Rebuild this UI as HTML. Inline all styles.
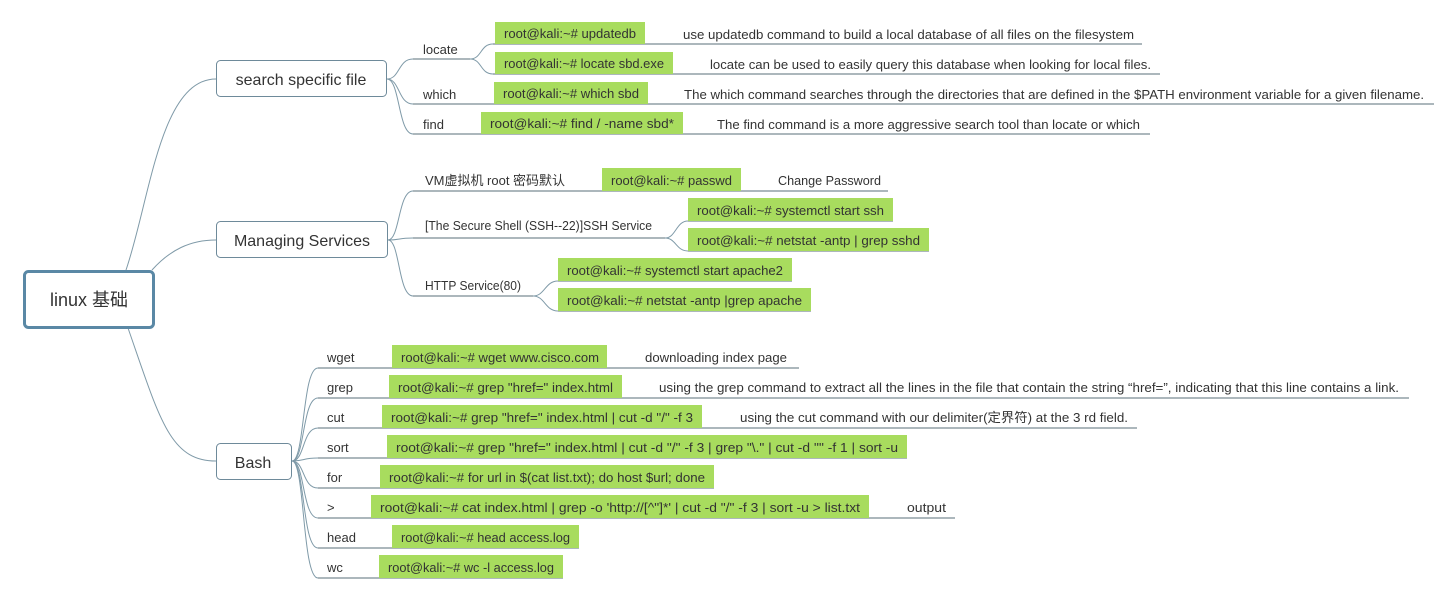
<!DOCTYPE html>
<html><head><meta charset="utf-8"><style>
html,body{margin:0;padding:0;background:#fff;width:1454px;height:600px;overflow:hidden}
svg text{font-family:"Liberation Sans","Noto Sans CJK SC",sans-serif;fill:#333}
</style></head><body>
<svg width="1454" height="600" xmlns="http://www.w3.org/2000/svg">
<g fill="none" stroke="#7f9aa8" stroke-width="1">
<!-- root connectors -->
<path d="M126 270 C150 200,160 79,216 79"/>
<path d="M152 270 C170 250,190 240,216 240"/>
<path d="M128 328 C160 420,170 461,216 461"/>
<!-- search branches -->
<path d="M387 79 C400 79,398 59,413 59 L470 59"/>
<path d="M387 79 C400 79,398 104,413 104"/>
<path d="M387 79 C400 79,398 134,413 134"/>
<path d="M470 59 C482 59,480 44,493 44"/>
<path d="M470 59 C482 59,480 74,493 74"/>
<!-- managing -->
<path d="M388 240 C400 240,398 191,413 191"/>
<path d="M388 240 C400 240,398 238,413 238"/>
<path d="M388 240 C400 240,398 296,413 296"/>
<path d="M665 238 C676 238,676 221,688 221"/>
<path d="M665 238 C676 238,676 251,688 251"/>
<path d="M533 296 C545 296,545 281,558 281"/>
<path d="M533 296 C545 296,545 311,558 311"/>
<!-- bash -->
<path d="M292 461 C305 461,302 368,318 368"/>
<path d="M292 461 C305 461,302 398,318 398"/>
<path d="M292 461 C305 461,302 428,318 428"/>
<path d="M292 461 C305 461,302 458,318 458"/>
<path d="M292 461 C305 461,302 488,318 488"/>
<path d="M292 461 C305 461,302 518,318 518"/>
<path d="M292 461 C305 461,302 548,318 548"/>
<path d="M292 461 C305 461,302 578,318 578"/>
</g>
<g stroke="#7a8c94" stroke-width="1.2">
<line x1="413" y1="59" x2="470" y2="59"/>
<line x1="493" y1="44" x2="1142" y2="44"/>
<line x1="493" y1="74" x2="1160" y2="74"/>
<line x1="413" y1="104" x2="1434" y2="104"/>
<line x1="413" y1="134" x2="1150" y2="134"/>
<line x1="413" y1="191" x2="888" y2="191"/>
<line x1="413" y1="238" x2="665" y2="238"/>
<line x1="688" y1="221" x2="893" y2="221"/>
<line x1="688" y1="251" x2="929" y2="251"/>
<line x1="413" y1="296" x2="533" y2="296"/>
<line x1="558" y1="281" x2="792" y2="281"/>
<line x1="558" y1="311" x2="811" y2="311"/>
<line x1="318" y1="368" x2="799" y2="368"/>
<line x1="318" y1="398" x2="1409" y2="398"/>
<line x1="318" y1="428" x2="1137" y2="428"/>
<line x1="318" y1="458" x2="907" y2="458"/>
<line x1="318" y1="488" x2="714" y2="488"/>
<line x1="318" y1="518" x2="955" y2="518"/>
<line x1="318" y1="548" x2="579" y2="548"/>
<line x1="318" y1="578" x2="563" y2="578"/>
</g>
<!-- main boxes -->
<rect x="24.5" y="271.5" width="129" height="56" rx="4" fill="#fff" stroke="#5a88a5" stroke-width="3"/>
<text x="89" y="306" font-size="18" text-anchor="middle">linux 基础</text>
<rect x="216.5" y="60.5" width="170" height="36" rx="4" fill="#fff" stroke="#6e8a9a"/>
<text x="301" y="85" font-size="16" text-anchor="middle">search specific file</text>
<rect x="216.5" y="221.5" width="171" height="36" rx="4" fill="#fff" stroke="#6e8a9a"/>
<text x="302" y="246" font-size="16" text-anchor="middle">Managing Services</text>
<rect x="216.5" y="443.5" width="75" height="36" rx="4" fill="#fff" stroke="#6e8a9a"/>
<text x="253" y="468" font-size="16" text-anchor="middle">Bash</text>
<!-- green boxes -->
<g fill="#a8dc5e">
<rect x="495" y="22" width="150" height="22"/>
<rect x="495" y="52" width="178" height="22"/>
<rect x="494" y="82" width="154" height="22"/>
<rect x="481" y="112" width="202" height="22"/>
<rect x="602" y="168" width="139" height="23"/>
<rect x="688" y="198" width="205" height="23"/>
<rect x="688" y="228" width="241" height="23"/>
<rect x="558" y="258" width="234" height="23"/>
<rect x="558" y="288" width="253" height="23"/>
<rect x="392" y="345" width="215" height="23"/>
<rect x="389" y="375" width="233" height="23"/>
<rect x="382" y="405" width="320" height="23"/>
<rect x="387" y="435" width="520" height="23"/>
<rect x="380" y="465" width="334" height="23"/>
<rect x="371" y="495" width="498" height="23"/>
<rect x="392" y="525" width="187" height="23"/>
<rect x="379" y="555" width="184" height="23"/>
</g>
<g font-size="13" lengthAdjust="spacingAndGlyphs">
<text x="504" y="38" textLength="132" lengthAdjust="spacingAndGlyphs">root@kali:~# updatedb</text>
<text x="504" y="68" textLength="160" lengthAdjust="spacingAndGlyphs">root@kali:~# locate sbd.exe</text>
<text x="503" y="98" textLength="136" lengthAdjust="spacingAndGlyphs">root@kali:~# which sbd</text>
<text x="490" y="128" textLength="184" lengthAdjust="spacingAndGlyphs">root@kali:~# find / -name sbd*</text>
<text x="611" y="185" textLength="121" lengthAdjust="spacingAndGlyphs">root@kali:~# passwd</text>
<text x="697" y="215" textLength="187" lengthAdjust="spacingAndGlyphs">root@kali:~# systemctl start ssh</text>
<text x="697" y="245" textLength="223" lengthAdjust="spacingAndGlyphs">root@kali:~# netstat -antp | grep sshd</text>
<text x="567" y="275" textLength="216" lengthAdjust="spacingAndGlyphs">root@kali:~# systemctl start apache2</text>
<text x="567" y="305" textLength="235" lengthAdjust="spacingAndGlyphs">root@kali:~# netstat -antp |grep apache</text>
<text x="401" y="362" textLength="198" lengthAdjust="spacingAndGlyphs">root@kali:~# wget www.cisco.com</text>
<text x="398" y="392" textLength="215" lengthAdjust="spacingAndGlyphs">root@kali:~# grep "href=" index.html</text>
<text x="391" y="422" textLength="302" lengthAdjust="spacingAndGlyphs">root@kali:~# grep "href=" index.html | cut -d "/" -f 3</text>
<text x="396" y="452" textLength="502" lengthAdjust="spacingAndGlyphs">root@kali:~# grep "href=" index.html | cut -d "/" -f 3 | grep "\." | cut -d '"' -f 1 | sort -u</text>
<text x="389" y="482" textLength="316" lengthAdjust="spacingAndGlyphs">root@kali:~# for url in $(cat list.txt); do host $url; done</text>
<text x="380" y="512" textLength="480" lengthAdjust="spacingAndGlyphs">root@kali:~# cat index.html | grep -o 'http://[^"]*' | cut -d "/" -f 3 | sort -u &gt; list.txt</text>
<text x="401" y="542" textLength="169" lengthAdjust="spacingAndGlyphs">root@kali:~# head access.log</text>
<text x="388" y="572" textLength="166" lengthAdjust="spacingAndGlyphs">root@kali:~# wc -l access.log</text>
<!-- labels -->
<text x="423" y="54">locate</text>
<text x="423" y="99">which</text>
<text x="423" y="129">find</text>
<text x="425" y="185" textLength="140" lengthAdjust="spacingAndGlyphs">VM虚拟机 root 密码默认</text>
<text x="425" y="230" textLength="227" lengthAdjust="spacingAndGlyphs">[The Secure Shell (SSH--22)]SSH Service</text>
<text x="425" y="290" textLength="96" lengthAdjust="spacingAndGlyphs">HTTP Service(80)</text>
<text x="327" y="362">wget</text>
<text x="327" y="392">grep</text>
<text x="327" y="422">cut</text>
<text x="327" y="452">sort</text>
<text x="327" y="482">for</text>
<text x="327" y="512">&gt;</text>
<text x="327" y="542">head</text>
<text x="327" y="572">wc</text>
<!-- descriptions -->
<text x="683" y="39" textLength="451" lengthAdjust="spacingAndGlyphs">use updatedb command to build a local database of all files on the filesystem</text>
<text x="710" y="69" textLength="441" lengthAdjust="spacingAndGlyphs">locate can be used to easily query this database when looking for local files.</text>
<text x="684" y="99" textLength="740" lengthAdjust="spacingAndGlyphs">The which command searches through the directories that are defined in the $PATH environment variable for a given filename.</text>
<text x="717" y="129" textLength="423" lengthAdjust="spacingAndGlyphs">The find command is a more aggressive search tool than locate or which</text>
<text x="778" y="185" textLength="103" lengthAdjust="spacingAndGlyphs">Change Password</text>
<text x="645" y="362" textLength="142" lengthAdjust="spacingAndGlyphs">downloading index page</text>
<text x="659" y="392" textLength="740" lengthAdjust="spacingAndGlyphs">using the grep command to extract all the lines in the file that contain the string “href=”, indicating that this line contains a link.</text>
<text x="740" y="422" textLength="388" lengthAdjust="spacingAndGlyphs">using the cut command with our delimiter(定界符) at the 3 rd field.</text>
<text x="907" y="512" textLength="39" lengthAdjust="spacingAndGlyphs">output</text>
</g>
</svg>
</body></html>
